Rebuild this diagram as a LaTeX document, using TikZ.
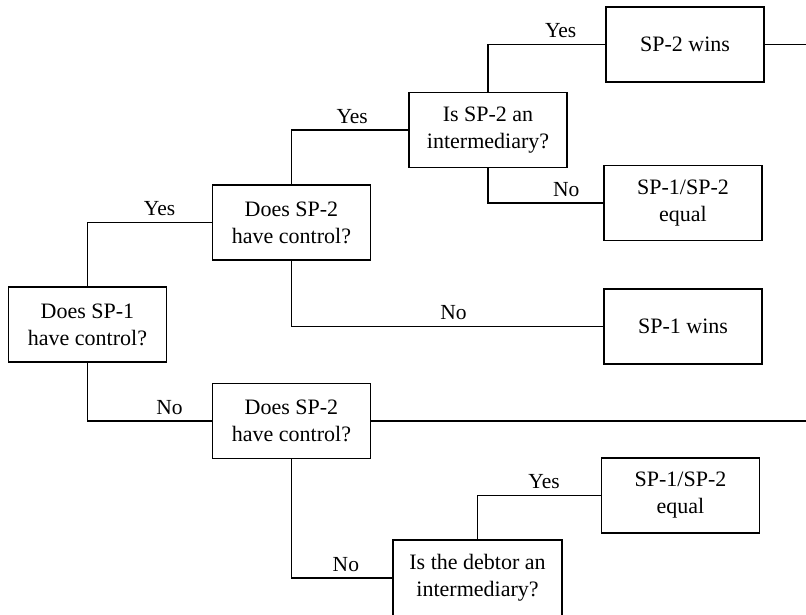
\documentclass[tikz,border=0pt]{standalone}
\usepackage{fontspec}
\setmainfont{Liberation Serif}
\begin{document}
\begin{tikzpicture}[x=1pt,y=-1pt,
  box/.style={draw, line width=1.6pt, minimum width=158pt, minimum height=75pt,
    align=center, inner sep=0pt, font=\rmfamily\fontsize{22}{27}\selectfont},
  conn/.style={line width=1.1pt},
  lbl/.style={inner sep=0pt, above=6pt, font=\rmfamily\fontsize{21.5}{26}\selectfont}]
\clip (0,0) rectangle (806,615);
\node[box] (A)  at (87.5,324.5) {Does SP-1\\have control?};
\node[box] (B1) at (291.5,222.5) {Does SP-2\\have control?};
\node[box] (C)  at (488,130) {Is SP-2 an\\intermediary?};
\node[box] (W2) at (685,44.5) {SP-2 wins};
\node[box] (E1) at (683,203) {SP-1/SP-2\\equal};
\node[box] (W1) at (683,326.5) {SP-1 wins};
\node[box] (B2) at (291.5,421) {Does SP-2\\have control?};
\node[box] (E2) at (680.5,495.5) {SP-1/SP-2\\equal};
\node[box, minimum width=169pt, minimum height=76pt] (D) at (477.5,578) {Is the debtor an\\intermediary?};
\coordinate (R1) at (806,44.5);
\coordinate (R2) at (806,421);
\draw[conn] (A.north) |- node[lbl, pos=0.79] {Yes} (B1.west);
\draw[conn] (A.south) |- node[lbl, pos=0.83] {No} (B2.west);
\draw[conn] (B1.north) |- node[lbl, pos=0.76] {Yes} (C.west);
\draw[conn] (B1.south) |- node[lbl, pos=0.76] {No} (W1.west);
\draw[conn] (C.north) |- node[lbl, pos=0.81] {Yes} (W2.west);
\draw[conn] (C.south) |- node[lbl, pos=0.84] {No} (E1.west);
\draw[conn] (B2.south) |- node[lbl, pos=0.77] {No} (D.west);
\draw[conn] (D.north) |- node[lbl, pos=0.77] {Yes} (E2.west);
\draw[conn] (W2.east) -- (R1);
\draw[conn] (B2.east) -- (R2);
\end{tikzpicture}
\end{document}
